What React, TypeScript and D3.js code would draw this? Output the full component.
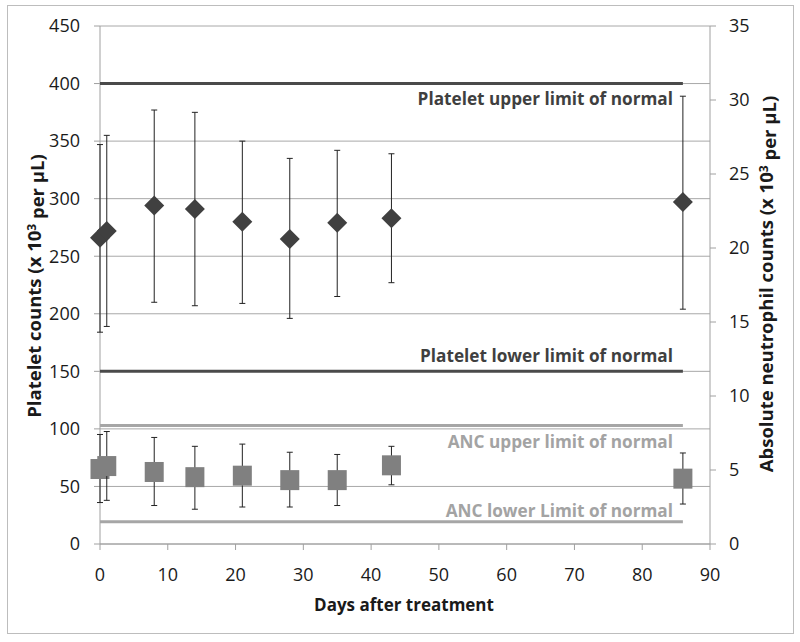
import React from "react";
import * as d3 from "d3";

const days = [0, 1, 8, 14, 21, 28, 35, 43, 86];
const plateletMean = [266, 272, 294, 291, 280, 265, 279, 283, 297];
const plateletUpper = [347, 355, 377, 375, 350, 335, 342, 339, 389];
const plateletLower = [184, 189, 210, 207, 209, 196, 215, 227, 204];
const ancMean = [5.1, 5.3, 4.9, 4.55, 4.65, 4.35, 4.35, 5.35, 4.45];
const ancUpper = [7.4, 7.6, 7.2, 6.6, 6.75, 6.2, 6.05, 6.6, 6.15];
const ancLower = [2.8, 2.95, 2.6, 2.35, 2.5, 2.5, 2.6, 4.0, 2.7];

const xTicks = [0, 10, 20, 30, 40, 50, 60, 70, 80, 90];
const leftTicks = [0, 50, 100, 150, 200, 250, 300, 350, 400, 450];
const rightTicks = [0, 5, 10, 15, 20, 25, 30, 35];

const plateletLimits = [
  { value: 400, label: "Platelet upper limit of normal", below: true },
  { value: 150, label: "Platelet lower limit of normal", below: false },
];
const ancLimits = [
  { value: 8, label: "ANC upper limit of normal", below: true },
  { value: 1.5, label: "ANC lower Limit of normal", below: false },
];
const limitSpan = [0, 86];

const W = 800;
const H = 642;
const FONT = "'Open Sans', sans-serif";

export default function App() {
  const x = d3.scaleLinear().domain([0, 90]).range([100, 710]);
  const yL = d3.scaleLinear().domain([0, 450]).range([544, 26]);
  const yR = d3.scaleLinear().domain([0, 35]).range([544, 26]);
  const diamond = d3.symbol().type(d3.symbolSquare).size(200)() as string;
  const sq = 19;
  const cap = 3;

  return (
    <svg
      width={W}
      height={H}
      style={{ position: "absolute", left: 0, top: 0, background: "#fff" }}
      fontFamily={FONT}
    >
      <rect x={7.5} y={5.5} width={786} height={628} fill="#fff" stroke="#bdbdbd" />
      {leftTicks.map((t) => (
        <line key={"g" + t} x1={x(0)} x2={x(90)} y1={yL(t)} y2={yL(t)} stroke="#a8a8a8" strokeWidth={1} />
      ))}
      <line x1={x(0)} x2={x(0)} y1={yL(450)} y2={yL(0)} stroke="#a0a0a0" />
      <line x1={x(90)} x2={x(90)} y1={yR(35)} y2={yR(0)} stroke="#a0a0a0" />
      <line x1={x(0)} x2={x(90)} y1={yL(0)} y2={yL(0)} stroke="#a0a0a0" />
      {leftTicks.map((t) => (
        <g key={"l" + t}>
          <line x1={x(0) - 6} x2={x(0)} y1={yL(t)} y2={yL(t)} stroke="#a0a0a0" />
          <text x={80} y={yL(t)} dy="0.35em" textAnchor="end" fontSize={18} fill="#1a1a1a">
            {t}
          </text>
        </g>
      ))}
      {rightTicks.map((t) => (
        <g key={"r" + t}>
          <line x1={x(90)} x2={x(90) + 6} y1={yR(t)} y2={yR(t)} stroke="#a0a0a0" />
          <text x={729} y={yR(t)} dy="0.35em" textAnchor="start" fontSize={18} fill="#1a1a1a">
            {t}
          </text>
        </g>
      ))}
      {xTicks.map((t) => (
        <g key={"x" + t}>
          <line x1={x(t)} x2={x(t)} y1={yL(0)} y2={yL(0) + 6} stroke="#a0a0a0" />
          <text x={x(t)} y={575} dy="0.35em" textAnchor="middle" fontSize={18} fill="#1a1a1a">
            {t}
          </text>
        </g>
      ))}
      {plateletLimits.map((l) => (
        <g key={l.label}>
          <line x1={x(limitSpan[0])} x2={x(limitSpan[1])} y1={yL(l.value)} y2={yL(l.value)} stroke="#4a4a4a" strokeWidth={3} />
          <text x={673} y={yL(l.value) + (l.below ? 15 : -15)} dy="0.35em" textAnchor="end" fontSize={17.2} fontWeight="bold" fill="#3f3f3f">
            {l.label}
          </text>
        </g>
      ))}
      {ancLimits.map((l) => (
        <g key={l.label}>
          <line x1={x(limitSpan[0])} x2={x(limitSpan[1])} y1={yR(l.value)} y2={yR(l.value)} stroke="#a6a6a6" strokeWidth={3} />
          <text x={673} y={yR(l.value) + (l.below ? 16 : -11)} dy="0.35em" textAnchor="end" fontSize={17.2} fontWeight="bold" fill="#a3a3a3">
            {l.label}
          </text>
        </g>
      ))}
      {days.map((d, i) => (
        <g key={"p" + i}>
          <line x1={x(d)} x2={x(d)} y1={yL(plateletUpper[i])} y2={yL(plateletLower[i])} stroke="#222" strokeWidth={1} />
          <line x1={x(d) - cap} x2={x(d) + cap} y1={yL(plateletUpper[i])} y2={yL(plateletUpper[i])} stroke="#222" />
          <line x1={x(d) - cap} x2={x(d) + cap} y1={yL(plateletLower[i])} y2={yL(plateletLower[i])} stroke="#222" />
          <path d={diamond} transform={`translate(${x(d)},${yL(plateletMean[i])}) rotate(45)`} fill="#404040" />
        </g>
      ))}
      {days.map((d, i) => (
        <g key={"a" + i}>
          <line x1={x(d)} x2={x(d)} y1={yR(ancUpper[i])} y2={yR(ancLower[i])} stroke="#222" strokeWidth={1} />
          <line x1={x(d) - cap} x2={x(d) + cap} y1={yR(ancUpper[i])} y2={yR(ancUpper[i])} stroke="#222" />
          <line x1={x(d) - cap} x2={x(d) + cap} y1={yR(ancLower[i])} y2={yR(ancLower[i])} stroke="#222" />
          <rect x={x(d) - sq / 2} y={yR(ancMean[i]) - sq / 2} width={sq} height={sq + 1} fill="#808080" />
        </g>
      ))}
      <text transform="translate(35,286) rotate(-90)" dy="0.35em" textAnchor="middle" fontSize={18.5} fontWeight="bold" fill="#1a1a1a">
        Platelet counts (x 10<tspan dy="-0.45em" fontSize={12}>3</tspan><tspan dy="0.45em"> per μL)</tspan>
      </text>
      <text transform="translate(767,284) rotate(-90)" dy="0.35em" textAnchor="middle" fontSize={18.5} fontWeight="bold" fill="#1a1a1a">
        Absolute neutrophil counts (x 10<tspan dy="-0.45em" fontSize={12}>3</tspan><tspan dy="0.45em"> per μL)</tspan>
      </text>
      <text x={404} y={605} dy="0.35em" textAnchor="middle" fontSize={17} fontWeight="bold" fill="#1a1a1a">
        Days after treatment
      </text>
    </svg>
  );
}
